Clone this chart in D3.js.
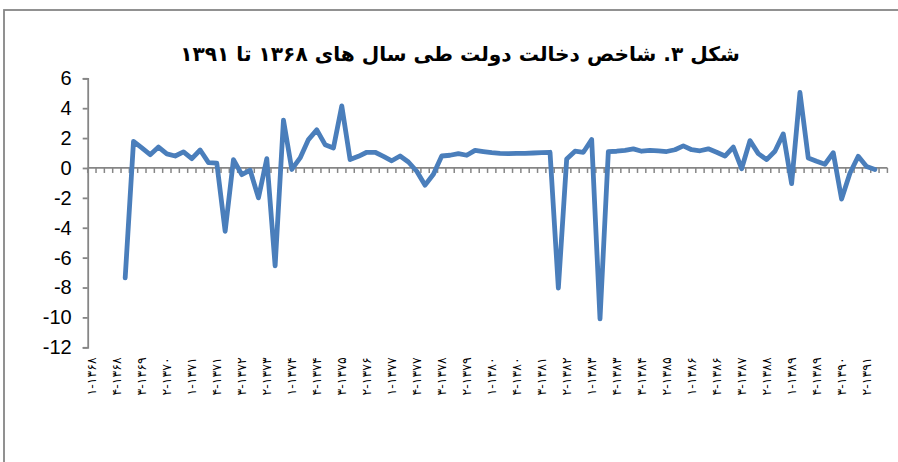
<!DOCTYPE html>
<html>
<head>
<meta charset="utf-8">
<script src="https://cdn.jsdelivr.net/npm/d3@7/dist/d3.min.js"></script>
<style>
  html, body { margin: 0; padding: 0; background: #fff; }
  svg { display: block; }
</style>
</head>
<body>
<svg id="chart" width="898" height="462"></svg>
<script>
// ---- data ----
const titleText = "شکل ۳. شاخص دخالت دولت طی سال های ۱۳۶۸ تا ۱۳۹۱";
const years = [1368,1369,1370,1371,1372,1373,1374,1375,1376,1377,1378,1379,
               1380,1381,1382,1383,1384,1385,1386,1387,1388,1389,1390,1391];
const quarters = [1,2,3,4];
const values = [
  null, null, null, null,
  -7.35, 1.78, 1.34, 0.89,
  1.40, 0.94, 0.80, 1.08,
  0.62, 1.20, 0.36, 0.32,
  -4.24, 0.56, -0.45, -0.15,
  -2.00, 0.62, -6.55, 3.20,
  -0.10, 0.67, 1.90, 2.55,
  1.56, 1.34, 4.15, 0.56,
  0.78, 1.05, 1.05, 0.78,
  0.48, 0.80, 0.40, -0.22,
  -1.15, -0.42, 0.80, 0.85,
  0.96, 0.85, 1.18, 1.10,
  1.02, 0.98, 0.96, 0.97,
  0.98, 1.00, 1.02, 1.05,
  -8.04, 0.60, 1.12, 1.05,
  1.90, -10.10, 1.10, 1.12,
  1.18, 1.28, 1.12, 1.18,
  1.14, 1.10, 1.22, 1.48,
  1.22, 1.15, 1.28, 1.05,
  0.80, 1.40, -0.05, 1.83,
  0.96, 0.56, 1.12, 2.28,
  -1.05, 5.05, 0.67, 0.45,
  0.25, 1.02, -2.08, -0.35,
  0.78, 0.10, -0.10, null
];
const tickLabels = [
  "۱-۱۳۶۸","۴-۱۳۶۸","۳-۱۳۶۹","۲-۱۳۷۰","۱-۱۳۷۱","۴-۱۳۷۱","۳-۱۳۷۲","۲-۱۳۷۳",
  "۱-۱۳۷۴","۴-۱۳۷۴","۳-۱۳۷۵","۲-۱۳۷۶","۱-۱۳۷۷","۴-۱۳۷۷","۳-۱۳۷۸","۲-۱۳۷۹",
  "۱-۱۳۸۰","۴-۱۳۸۰","۳-۱۳۸۱","۲-۱۳۸۲","۱-۱۳۸۳","۴-۱۳۸۳","۳-۱۳۸۴","۲-۱۳۸۵",
  "۱-۱۳۸۶","۴-۱۳۸۶","۳-۱۳۸۷","۲-۱۳۸۸","۱-۱۳۸۹","۴-۱۳۸۹","۳-۱۳۹۰","۲-۱۳۹۱"
];
const yTicks = [-12,-10,-8,-6,-4,-2,0,2,4,6];

const categories = years.flatMap(yr => quarters.map(q => q + "-" + yr));
const shownCats = categories.filter((c, i) => i % 3 === 0);
const labelOf = new Map(shownCats.map((c, i) => [c, tickLabels[i]]));

// ---- layout ----
const svg = d3.select("#chart");
const axisColor = "#868686";
const lineColor = "#4A7EBB";
const plotLeft = 87.7, plotRight = 887.4, plotTop = 78.3, plotBottom = 347.3;

// frame
svg.append("rect")
  .attr("x", 4).attr("y", 10).attr("width", 910).attr("height", 470)
  .attr("fill", "none").attr("stroke", axisColor).attr("stroke-width", 1.8);

const x = d3.scaleBand().domain(categories).range([plotLeft, plotRight]).padding(0);
const y = d3.scaleLinear().domain([-12, 6]).range([plotBottom, plotTop]);

// title
const title = svg.append("text")
  .attr("x", 460).attr("y", 61)
  .attr("text-anchor", "middle")
  .attr("direction", "rtl")
  .style("font-family", "'DejaVu Sans', sans-serif")
  .style("font-weight", "bold")
  .style("font-size", "20px")
  .attr("fill", "#000")
  .text(titleText);
const tw = title.node().getComputedTextLength();
if (tw > 0) title.style("font-size", (20 * 560 / tw).toFixed(2) + "px");

// y axis
const yAxis = d3.axisLeft(y).tickValues(yTicks).tickSize(5).tickPadding(11)
  .tickFormat(d3.format("d"));
const gy = svg.append("g").attr("transform", `translate(${plotLeft},0)`).call(yAxis);
gy.select(".domain").attr("stroke", axisColor).attr("stroke-width", 1.8);
gy.selectAll(".tick line").attr("stroke", axisColor).attr("stroke-width", 1.8);
gy.selectAll(".tick text")
  .attr("fill", "#000")
  .style("font-family", "'Liberation Sans', Arial, sans-serif")
  .style("font-size", "20px")
  .text(d => d < 0 ? "-" + Math.abs(d) : d);

// x axis at zero: ticks at category boundaries
const boundaries = categories.map(c => x(c)).concat([plotRight]);
const gx = svg.append("g");
gx.selectAll("line.xt").data(boundaries).join("line")
  .attr("class", "xt")
  .attr("x1", d => d).attr("x2", d => d)
  .attr("y1", y(0)).attr("y2", y(0) + 5)
  .attr("stroke", axisColor).attr("stroke-width", 1.5);
gx.append("line")
  .attr("x1", plotLeft).attr("x2", plotRight)
  .attr("y1", y(0)).attr("y2", y(0))
  .attr("stroke", axisColor).attr("stroke-width", 1.8);

// category labels at the bottom
const xAxis = d3.axisBottom(x).tickValues(shownCats).tickSize(0).tickPadding(0)
  .tickFormat(c => labelOf.get(c));
const gxl = svg.append("g").attr("transform", `translate(0,${plotBottom})`).call(xAxis);
gxl.select(".domain").remove();
gxl.selectAll(".tick text")
  .attr("fill", "#000")
  .attr("direction", "ltr")
  .style("font-family", "'DejaVu Sans', sans-serif")
  .style("font-size", "12.5px")
  .attr("text-anchor", "end")
  .attr("transform", "translate(0,10) rotate(-90)")
  .attr("x", 0).attr("y", 0).attr("dy", "0.35em");

// line
const line = d3.line()
  .defined(d => d != null)
  .x((d, i) => x(categories[i]) + x.bandwidth() / 2)
  .y(d => y(d));
svg.append("path")
  .datum(values)
  .attr("fill", "none")
  .attr("stroke", lineColor)
  .attr("stroke-width", 4.8)
  .attr("stroke-linejoin", "round")
  .attr("stroke-linecap", "round")
  .attr("d", line);
</script>
</body>
</html>
